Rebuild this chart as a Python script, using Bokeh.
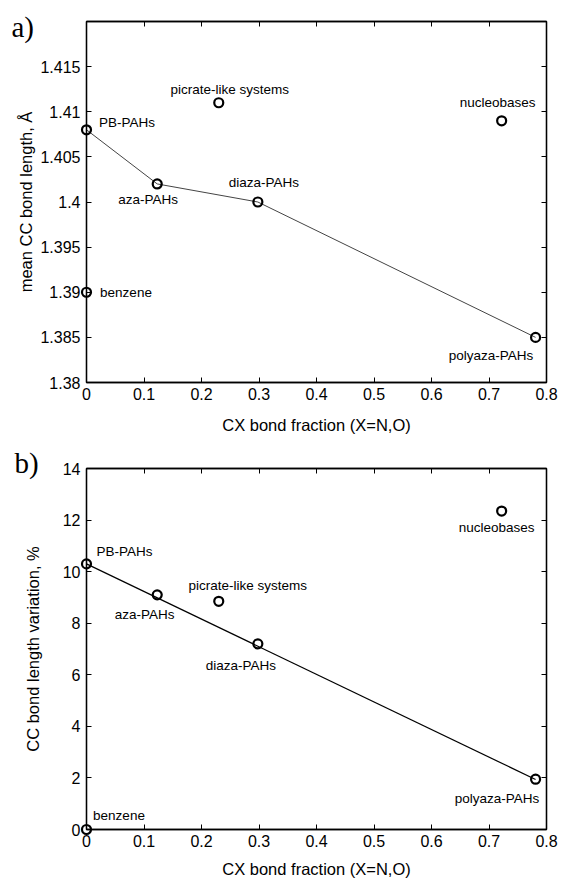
from bokeh.plotting import figure
from bokeh.models import LinearAxis, FixedTicker, ColumnDataSource, LabelSet, Range1d
from bokeh.layouts import column
from bokeh.core.properties import value
from bokeh.embed import file_html
from bokeh.resources import INLINE

# ---------------- data ----------------
names = ["benzene", "PB-PAHs", "aza-PAHs", "diaza-PAHs",
         "picrate-like systems", "nucleobases", "polyaza-PAHs"]
cx_fraction = [0.0, 0.0, 0.123, 0.298, 0.230, 0.722, 0.781]
mean_cc_length = [1.390, 1.408, 1.402, 1.400, 1.411, 1.409, 1.385]
cc_variation = [0.0, 10.3, 9.1, 7.2, 8.85, 12.35, 1.95]

# systems joined by the line in panel a
line_a_members = ["PB-PAHs", "aza-PAHs", "diaza-PAHs", "polyaza-PAHs"]
# linear fit in panel b (end points)
fit_b_x = [0.0, 0.781]
fit_b_y = [10.3, 1.94]

x_ticks = [0.0, 0.1, 0.2, 0.3, 0.4, 0.5, 0.6, 0.7, 0.8]
x_tick_labels = ["0", "0.1", "0.2", "0.3", "0.4", "0.5", "0.6", "0.7", "0.8"]
ya_ticks = [1.38, 1.385, 1.39, 1.395, 1.4, 1.405, 1.41, 1.415]
ya_tick_labels = ["1.38", "1.385", "1.39", "1.395", "1.4", "1.405", "1.41", "1.415"]
yb_ticks = [0, 2, 4, 6, 8, 10, 12, 14]
yb_tick_labels = ["0", "2", "4", "6", "8", "10", "12", "14"]

panel_tags = ["a)", "b)"]

# label placement (screen px offsets, style only)
off_a = {"benzene": (39.5, 0), "PB-PAHs": (40.5, 7), "aza-PAHs": (-9, -16),
         "diaza-PAHs": (6, 20), "picrate-like systems": (11, 13),
         "nucleobases": (-4, 18), "polyaza-PAHs": (-44.5, -18)}
off_b = {"benzene": (32.5, 14), "PB-PAHs": (38, 12), "aza-PAHs": (-12.5, -20),
         "diaza-PAHs": (-17, -22), "picrate-like systems": (29, 16),
         "nucleobases": (-5, -16), "polyaza-PAHs": (-38.5, -19)}

FONT = "Liberation Sans"


def style(p, xt, xl, yt, yl, ylabel_standoff, xlabel_standoff):
    p.outline_line_color = "black"
    p.outline_line_width = 1.3
    p.xgrid.visible = False
    p.ygrid.visible = False
    for ax, ticks, labels in ((p.xaxis[0], xt, xl), (p.yaxis[0], yt, yl)):
        ax.ticker = FixedTicker(ticks=ticks)
        ax.major_label_overrides = {t: s for t, s in zip(ticks, labels)}
        ax.major_tick_in = 5
        ax.major_tick_out = 0
        ax.minor_tick_line_color = None
        ax.axis_line_color = "black"
        ax.axis_line_width = 1.3
        ax.major_tick_line_color = "black"
        ax.major_label_text_font = FONT
        ax.major_label_text_font_size = "16px"
        ax.major_label_text_color = "black"
        ax.axis_label_text_font = FONT
        ax.axis_label_text_font_size = "16.5px"
        ax.axis_label_text_font_style = "normal"
        ax.axis_label_text_color = "black"
        ax.major_label_standoff = 6
    p.xaxis[0].major_label_standoff = 5
    p.xaxis[0].axis_label_standoff = xlabel_standoff
    p.yaxis[0].axis_label_standoff = ylabel_standoff
    for loc, ticks in (("above", xt), ("right", yt)):
        ax = LinearAxis(ticker=FixedTicker(ticks=ticks))
        ax.major_label_text_font_size = "1px"
        ax.major_label_text_color = None
        ax.major_label_standoff = 0
        ax.major_tick_in = 5
        ax.major_tick_out = 0
        ax.minor_tick_line_color = None
        ax.axis_line_color = "black"
        ax.axis_line_width = 1.3
        p.add_layout(ax, loc)


def labels(p, xs, ys, offs, size):
    src = ColumnDataSource(dict(x=xs, y=ys, t=names,
                                dx=[offs[n][0] for n in names],
                                dy=[offs[n][1] for n in names]))
    ls = LabelSet(x="x", y="y", text="t", source=src, x_offset="dx", y_offset="dy",
                  text_align="center", text_baseline="middle",
                  text_font=value(FONT), text_font_size=value(size), text_color="black")
    p.add_layout(ls)


def tag(p, x, y, text):
    r = p.text(x=[x], y=[y], text=[text], text_align="center", text_baseline="middle",
               text_font=value("Liberation Serif"), text_font_size=value("29px"),
               text_color="black")
    r.level = "overlay"


# ---------------- panel a ----------------
p1 = figure(width=558, height=436, x_range=Range1d(0, 0.8), y_range=Range1d(1.38, 1.42),
            output_backend="svg", toolbar_location=None,
            min_border_left=86, min_border_right=12, min_border_top=21, min_border_bottom=53,
            x_axis_label="CX bond fraction (X=N,O)", y_axis_label="mean CC bond length, Å")
style(p1, x_ticks, x_tick_labels, ya_ticks, ya_tick_labels, 2, 13)
idx_a = [names.index(n) for n in line_a_members]
p1.line([cx_fraction[i] for i in idx_a], [mean_cc_length[i] for i in idx_a],
        line_color="#444444", line_width=1)
r1 = p1.scatter(cx_fraction, mean_cc_length, size=9, marker="circle",
                fill_color=None, line_color="black", line_width=2.2)
r1.level = "overlay"
labels(p1, cx_fraction, mean_cc_length, off_a, "13.5px")
tag(p1, -0.111, 1.4194, panel_tags[0])

# ---------------- panel b ----------------
p2 = figure(width=558, height=444, x_range=Range1d(0, 0.8), y_range=Range1d(0, 14),
            output_backend="svg", toolbar_location=None,
            min_border_left=85, min_border_right=12, min_border_top=32, min_border_bottom=50,
            x_axis_label="CX bond fraction (X=N,O)", y_axis_label="CC bond length variation, %")
style(p2, x_ticks, x_tick_labels, yb_ticks, yb_tick_labels, 18, 10)
p2.line(fit_b_x, fit_b_y, line_color="black", line_width=1.2)
r2 = p2.scatter(cx_fraction, cc_variation, size=9, marker="circle",
                fill_color=None, line_color="black", line_width=2.2)
r2.level = "overlay"
labels(p2, cx_fraction, cc_variation, off_b, "13.5px")
tag(p2, -0.104, 14.2, panel_tags[1])

layout = column(p1, p2, spacing=0)
open("out.html", "w").write(file_html(layout, INLINE))
